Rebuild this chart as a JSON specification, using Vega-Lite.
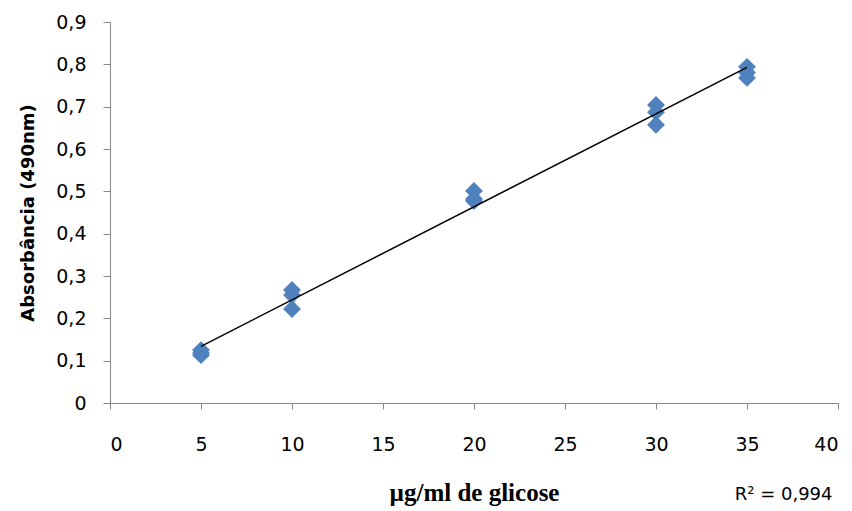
{
  "$schema": "https://vega.github.io/schema/vega-lite/v6.json",
  "width": 728,
  "height": 381,
  "autosize": {"type": "none"},
  "padding": {"left": 110, "top": 22, "right": 14, "bottom": 108},
  "background": "white",
  "config": {"view": {"stroke": null}},
  "title": {
    "text": "R² = 0,994",
    "orient": "bottom",
    "anchor": "end",
    "font": "DejaVu Sans",
    "fontSize": 18,
    "fontWeight": "normal",
    "color": "black",
    "offset": -19,
    "dx": -6
  },
  "data": {
    "values": [
      {"x": 5, "y": 0.125},
      {"x": 5, "y": 0.113},
      {"x": 5, "y": 0.118},
      {"x": 10, "y": 0.267},
      {"x": 10, "y": 0.255},
      {"x": 10, "y": 0.222},
      {"x": 20, "y": 0.501},
      {"x": 20, "y": 0.477},
      {"x": 20, "y": 0.482},
      {"x": 30, "y": 0.704},
      {"x": 30, "y": 0.687},
      {"x": 30, "y": 0.657},
      {"x": 35, "y": 0.794},
      {"x": 35, "y": 0.781},
      {"x": 35, "y": 0.768}
    ]
  },
  "encoding": {
    "x": {
      "field": "x",
      "type": "quantitative",
      "scale": {"domain": [0, 40], "nice": false},
      "axis": {
        "values": [0, 5, 10, 15, 20, 25, 30, 35, 40],
        "grid": false,
        "domainColor": "#868686",
        "tickColor": "#868686",
        "tickSize": 6,
        "labelFont": "DejaVu Sans",
        "labelFontSize": 19,
        "labelColor": "black",
        "labelPadding": 26,
        "title": "µg/ml de glicose",
        "titleFont": "Liberation Serif",
        "titleFontSize": 25,
        "titleFontWeight": "bold",
        "titleColor": "black",
        "titlePadding": 26
      }
    },
    "y": {
      "field": "y",
      "type": "quantitative",
      "scale": {"domain": [0, 0.9], "nice": false},
      "axis": {
        "values": [0, 0.1, 0.2, 0.3, 0.4, 0.5, 0.6, 0.7, 0.8, 0.9],
        "labelExpr": "replace(format(datum.value, '.1~f'), '.', ',')",
        "grid": false,
        "domainColor": "#868686",
        "tickColor": "#868686",
        "tickSize": 7,
        "labelFont": "DejaVu Sans",
        "labelFontSize": 19,
        "labelColor": "black",
        "labelPadding": 17,
        "title": "Absorbância (490nm)",
        "titleFont": "DejaVu Sans",
        "titleFontSize": 18,
        "titleFontWeight": "bold",
        "titleColor": "black",
        "titlePadding": 18
      }
    }
  },
  "layer": [
    {
      "mark": {"type": "point", "shape": "diamond", "filled": true, "size": 320, "color": "#4F81BD", "opacity": 1}
    },
    {
      "transform": [{"regression": "y", "on": "x"}],
      "mark": {"type": "line", "color": "black", "strokeWidth": 1.5}
    }
  ]
}
